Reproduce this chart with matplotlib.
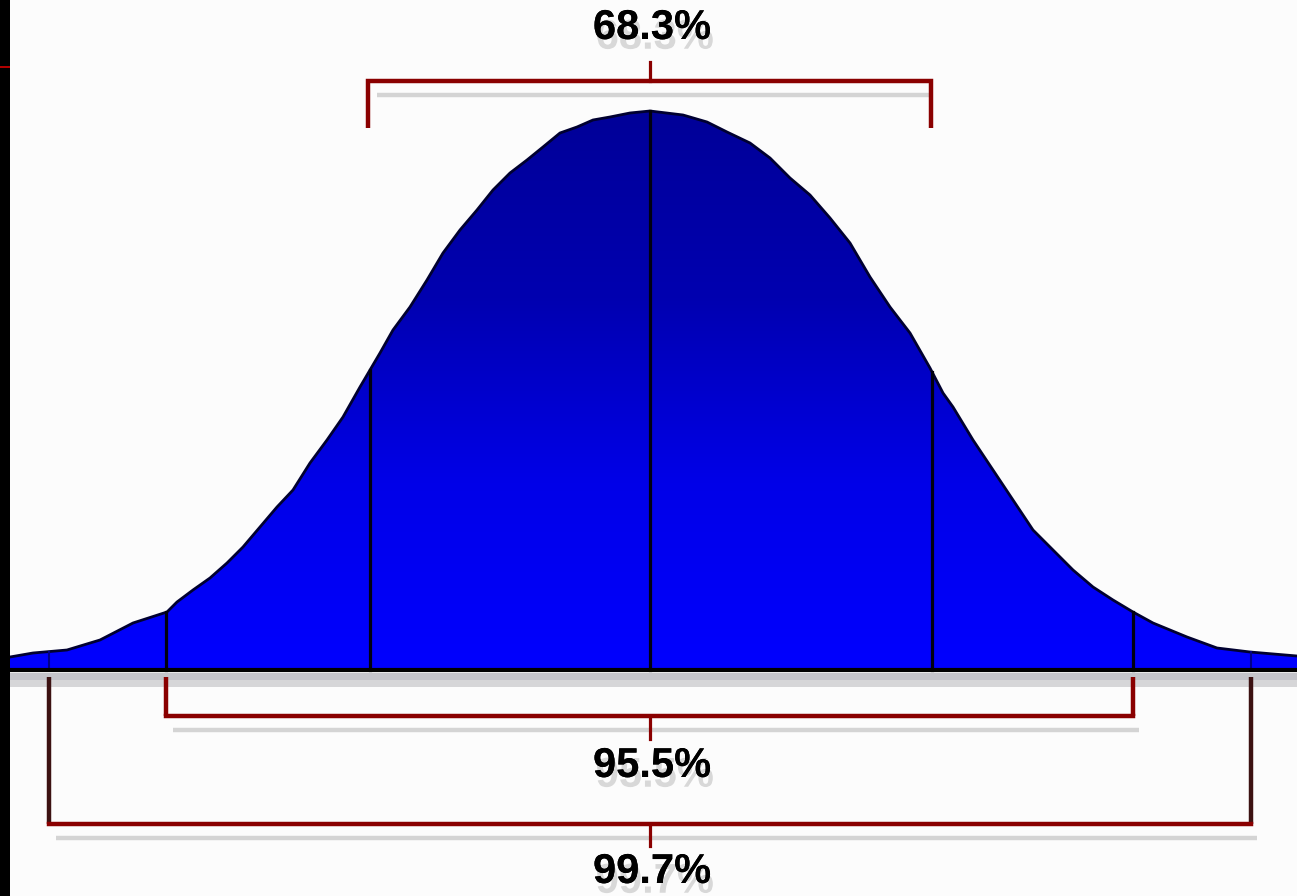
import numpy as np
import matplotlib
matplotlib.use("Agg")
import matplotlib.pyplot as plt
from matplotlib.colors import LinearSegmentedColormap
from matplotlib.patches import Polygon
import matplotlib.patheffects as pe

# ---- data (x: horizontal position, h: height above baseline) ----
curve_x = [10, 33, 67, 100, 133, 167, 177, 193, 210, 227, 243, 260, 277, 293, 310, 327,
           343, 360, 370, 380, 393, 410, 427, 443, 460, 477, 493, 510, 527, 543, 560,
           577, 593, 610, 630, 650, 683, 707, 727, 750, 770, 790, 810, 830, 850, 870,
           890, 910, 930, 943, 953, 973, 993, 1013, 1033, 1053, 1073, 1093, 1113, 1133,
           1153, 1187, 1217, 1250, 1297]
curve_h = [13, 17, 20, 30, 47, 58, 68, 80, 92, 107, 123, 143, 163, 180, 207, 230,
           253, 283, 300, 317, 340, 363, 390, 417, 440, 460, 480, 497, 510, 523, 537,
           543, 550, 553, 557, 559, 555, 548, 538, 527, 512, 492, 475, 452, 427, 393,
           363, 337, 302, 277, 263, 230, 200, 170, 140, 120, 100, 83, 70, 58,
           47, 33, 22, 18, 14]

section_x = [166, 370, 650, 932, 1133]          # black dividers
tail_x = [49, 1251]                              # faint outer dividers

bracket_labels = ["68.3%", "95.5%", "99.7%"]
bracket_left = [368, 166, 49]
bracket_right = [931, 1133, 1251]
center_x = 650

W, H = 1297, 896
BASE = 670  # baseline pixel row

fig = plt.figure(figsize=(W / 100, H / 100), dpi=100)
fig.patch.set_facecolor("#fcfcfc")
ax = fig.add_axes([0, 0, 1, 1])
ax.set_xlim(0, W)
ax.set_ylim(BASE - H, BASE)
ax.axis("off")

cx = np.array(curve_x, float)
ch = np.array(curve_h, float)

# gradient fill under curve
poly_xy = np.column_stack([np.r_[cx, cx[-1], cx[0]], np.r_[ch, 0, 0]])
patch = Polygon(poly_xy, closed=True, facecolor="none", edgecolor="none")
ax.add_patch(patch)
cmap = LinearSegmentedColormap.from_list("bl", ["#0000ff", "#0000e8", "#0000b0", "#000098"])
grad = np.linspace(0, 1, 256).reshape(-1, 1)
im = ax.imshow(grad, cmap=cmap, origin="lower", aspect="auto",
               extent=[cx[0], cx[-1], 0, ch.max()], zorder=2)
im.set_clip_path(patch)

# curve outline
ax.plot(cx, ch, color="#000030", lw=2.0, zorder=3, solid_joinstyle="round")

# dividers
for x in tail_x:
    ax.plot([x, x], [0, np.interp(x, cx, ch)], color="#000088", lw=1.5, zorder=3)
for x in section_x:
    ax.plot([x, x], [0, np.interp(x, cx, ch)], color="#000010", lw=2.3, zorder=4)

# baseline + gray shadow band
ax.fill_between([10, W], [-3, -3], [-10, -10], color="#c4c4ca", lw=0, zorder=1)
ax.fill_between([10, W], [-10, -10], [-17, -17], color="#d6d6d8", lw=0, zorder=1)
ax.plot([10, W], [0, 0], color="#000000", lw=3.0, zorder=5, solid_capstyle="butt")

red = "#8a0000"
shadow = "#d4d4d4"
lw_br = 3.2

# 68.3% bracket (above the curve)
top_y, top_leg = BASE - 81, BASE - 128
ax.plot([bracket_left[0] + 9, bracket_right[0]], [top_y - 14, top_y - 14],
        color=shadow, lw=lw_br, zorder=1, solid_capstyle="butt")
ax.plot([bracket_left[0], bracket_left[0], bracket_right[0], bracket_right[0]],
        [top_leg, top_y, top_y, top_leg], color=red, lw=lw_br, zorder=6,
        solid_joinstyle="miter", solid_capstyle="butt")
ax.plot([center_x, center_x], [top_y, BASE - 62], color=red, lw=2.3, zorder=6)

# lower brackets
lows = [BASE - 716, BASE - 824]
tick_ends = [BASE - 739, BASE - 846]
leg_colors = [red, "#3c1212"]
for i, (yb, te) in enumerate(zip(lows, tick_ends), start=1):
    ax.plot([bracket_left[i] + 7, bracket_right[i] + 6], [yb - 14, yb - 14],
            color=shadow, lw=lw_br, zorder=1, solid_capstyle="butt")
    ax.plot([bracket_left[i], bracket_left[i]], [-7, yb], color=leg_colors[i - 1],
            lw=lw_br, zorder=6, solid_capstyle="butt")
    ax.plot([bracket_right[i], bracket_right[i]], [-7, yb], color=leg_colors[i - 1],
            lw=lw_br, zorder=6, solid_capstyle="butt")
    ax.plot([bracket_left[i], bracket_right[i]], [yb, yb], color=red, lw=lw_br,
            zorder=6, solid_capstyle="projecting")
    ax.plot([center_x, center_x], [yb, te], color=red, lw=2.3, zorder=6)

# labels with soft gray drop shadow
label_y = [BASE - 28, BASE - 766, BASE - 872]
effects = [pe.withSimplePatchShadow(offset=(2, -7), shadow_rgbFace="#d8d8d8", alpha=1.0),
           pe.Normal()]
for lab, ly in zip(bracket_labels, label_y):
    ax.text(center_x + 2, ly, lab, ha="center", va="center", fontsize=30,
            fontweight="bold", family="Liberation Sans", color="#000000", zorder=7,
            path_effects=effects)

# left black edge with small red tick
fig.patches.append(plt.Rectangle((0, 0), 10 / W, 1, transform=fig.transFigure,
                                 facecolor="#000000", edgecolor="none", zorder=10))
fig.patches.append(plt.Rectangle((0, 1 - 68 / H), 10 / W, 2 / H, transform=fig.transFigure,
                                 facecolor="#b00000", edgecolor="none", zorder=11))

fig.savefig("out.png", dpi=100, facecolor=fig.get_facecolor())
